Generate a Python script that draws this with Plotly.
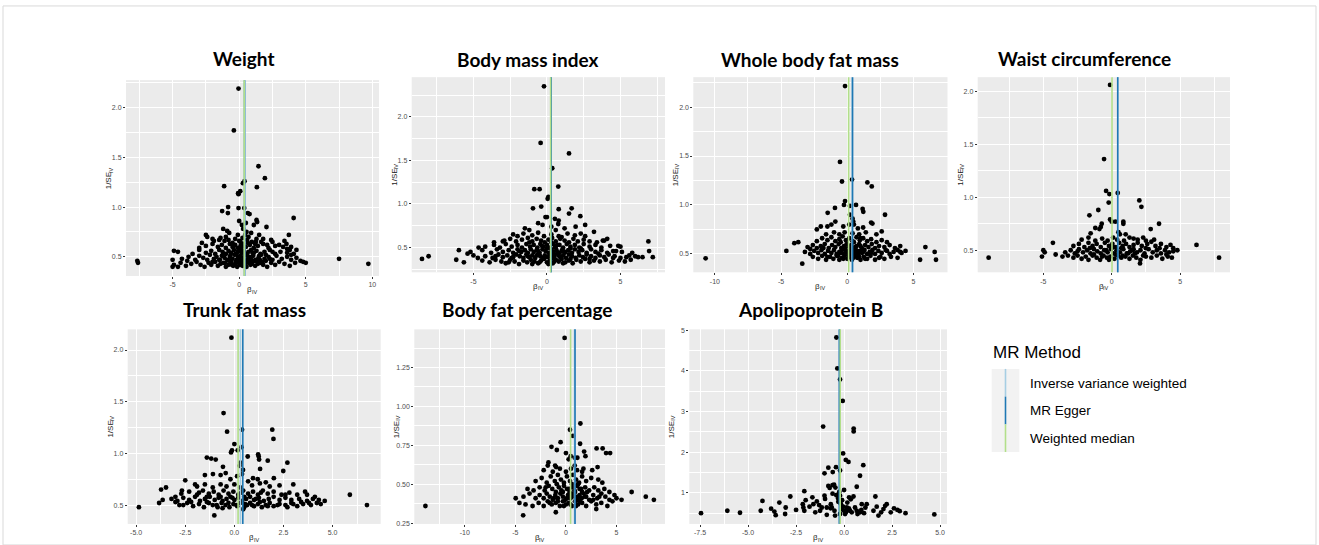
import plotly.graph_objects as go

W, H = 1319, 545

panel_titles = ["Weight", "Body mass index", "Whole body fat mass", "Waist circumference",
                "Trunk fat mass", "Body fat percentage", "Apolipoprotein B"]
methods = ["Inverse variance weighted", "MR Egger", "Weighted median"]
method_colors = ["#a6cee3", "#1f78b4", "#b2df8a"]
x_title = ("β", "IV")      # beta with subscript IV
y_title = ("1/SE", "IV")   # 1/SE with subscript IV

# ---------------- data: (beta_IV, 1/SE_IV) ----------------
weight_pts = [
    (-0.05,2.19),(-0.4,1.77),(1.45,1.41),(1.93,1.29),(0.4,1.26),(0.28,1.24),(-1.13,1.21),(1.33,1.20),(0.08,1.16),(-0.08,1.14),(-0.05,1.13),
    (-0.83,1.00),(-0.85,0.94),(-1.28,0.96),(-0.05,0.99),(0.38,0.99),(0.65,0.94),(0.78,0.93),(4.09,0.89),(0.0,0.86),(1.3,0.87),(1.35,0.85),
    (0.5,0.84),(0.2,0.82),(1.1,0.82),(2.05,0.80),(-1.2,0.78),(0.3,0.78),(0.55,0.75),(-0.9,0.76),(-0.75,0.74),(0.9,0.74),(-2.5,0.72),
    (-2.4,0.70),(3.73,0.72),(1.5,0.72),(-0.1,0.72),(0.7,0.70),(2.4,0.67),(-2.0,0.68),(-1.5,0.67),(1.8,0.68),(-1.1,0.66),(3.55,0.63),
    (0.1,0.65),(-0.5,0.64),(1.2,0.63),(2.1,0.62),(3.9,0.60),
    (-7.65,0.46),(-7.6,0.44),(7.5,0.48),(9.7,0.43),
    (-5.0,0.40),(-4.9,0.42),(-4.4,0.44),(-4.0,0.41),(-3.6,0.43),(-3.2,0.45),(-2.9,0.42),(-2.6,0.40),(-2.3,0.44),(-2.1,0.42),(-1.8,0.45),
    (-1.6,0.41),(-1.4,0.43),(-1.2,0.44),(-1.0,0.40),(-0.8,0.42),(-0.6,0.45),(-0.45,0.41),(-0.3,0.43),(-0.15,0.40),(-0.05,0.44),(0.05,0.42),
    (0.15,0.45),(0.25,0.41),(0.4,0.43),(0.55,0.40),(0.7,0.44),(0.85,0.42),(1.0,0.45),(1.2,0.41),(1.4,0.43),(1.6,0.44),(1.8,0.42),(2.1,0.40),
    (2.4,0.44),(2.7,0.42),(3.0,0.45),(3.4,0.43),(3.8,0.41),(4.2,0.44),(4.8,0.45),(5.0,0.44),
    (-5.0,0.47),(-4.3,0.48),(-3.8,0.50),(-3.3,0.47),(-3.0,0.51),(-2.7,0.49),(-2.4,0.47),(-2.2,0.52),(-1.9,0.48),(-1.7,0.50),(-1.5,0.47),
    (-1.3,0.51),(-1.1,0.49),(-0.9,0.47),(-0.7,0.50),(-0.5,0.48),(-0.35,0.52),(-0.2,0.47),(-0.1,0.50),(0.0,0.48),(0.1,0.51),(0.2,0.46),
    (0.3,0.49),(0.45,0.52),(0.6,0.47),(0.75,0.50),(0.9,0.48),(1.05,0.51),(1.25,0.47),(1.45,0.49),(1.65,0.52),(1.9,0.48),(2.2,0.50),
    (2.5,0.47),(2.8,0.51),(3.2,0.48),(3.6,0.50),(3.9,0.47),(4.3,0.49),(4.6,0.46),
    (-4.9,0.56),(-4.6,0.55),(-3.5,0.53),(-3.0,0.57),(-2.5,0.54),(-2.1,0.56),(-1.8,0.53),(-1.5,0.57),(-1.25,0.55),(-1.0,0.53),(-0.8,0.56),
    (-0.6,0.54),(-0.4,0.57),(-0.25,0.53),(-0.1,0.55),(0.05,0.57),(0.2,0.54),(0.35,0.56),(0.5,0.53),(0.7,0.55),(0.9,0.57),(1.1,0.54),
    (1.3,0.56),(1.6,0.53),(1.9,0.55),(2.3,0.57),(2.7,0.53),(3.1,0.55),(3.6,0.54),(3.8,0.57),(4.1,0.53),
    (-3.0,0.59),(-2.5,0.61),(-2.0,0.63),(-1.6,0.60),(-1.3,0.62),(-1.0,0.59),(-0.7,0.63),(-0.5,0.60),(-0.3,0.62),(-0.1,0.59),(0.1,0.61),
    (0.3,0.63),(0.5,0.60),(0.8,0.62),(1.1,0.59),(1.4,0.61),(1.8,0.63),(2.2,0.59),(2.7,0.61),(3.3,0.60),(3.6,0.58),
    (-1.9,0.66),(-1.4,0.69),(-0.8,0.67),(-0.3,0.68),(0.0,0.66),(0.25,0.69),(0.6,0.67),(0.95,0.65),(1.3,0.68),(1.65,0.65),(2.5,0.65),(3.4,0.66),
    (-1.45,0.47),(-1.05,0.44),(-0.75,0.46),(-0.55,0.42),(-0.25,0.45),(-0.05,0.47),(0.1,0.43),(0.3,0.46),(0.5,0.44),(0.65,0.47),(0.8,0.45),
    (0.95,0.43),(1.15,0.46),(1.35,0.45),(1.55,0.47),(1.75,0.45),(2.0,0.46),(2.3,0.48),(-2.0,0.45),(-1.2,0.53),(-0.65,0.52),(-0.2,0.53),
    (0.15,0.55),(0.6,0.51),(1.0,0.54),(1.5,0.51),(2.0,0.52),(2.5,0.55),(-0.4,0.61),(0.2,0.60),(0.65,0.64),(1.25,0.65),(-1.0,0.70),
    (0.45,0.72),(3.0,0.62),(3.9,0.52),(4.3,0.57),(-2.8,0.64),(-3.9,0.46),(-4.6,0.40),
]

bmi_pts = [
    (-0.2,2.35),(-0.43,1.70),(1.5,1.58),(0.36,1.41),(0.77,1.20),(-0.86,1.17),(-0.5,1.17),(0.1,1.08),(0.05,1.06),(-0.39,0.97),(-0.95,0.95),
    (0.8,0.94),(1.68,0.95),(1.5,0.89),(2.27,0.86),(0.0,0.85),(-0.1,0.85),(0.54,0.83),(0.8,0.81),(0.77,0.77),(-0.6,0.78),(2.6,0.76),
    (1.95,0.74),(-0.3,0.76),(0.3,0.74),(1.2,0.72),(-1.5,0.72),(-1.2,0.70),(0.6,0.70),(3.2,0.68),(2.3,0.66),(-2.3,0.65),(4.1,0.60),
    (3.9,0.58),(-3.0,0.57),
    (-8.5,0.37),(-8.05,0.40),(-6.17,0.36),(-5.99,0.47),(-5.4,0.43),(-5.65,0.33),(-4.65,0.50),(-4.7,0.38),
    (6.9,0.57),(6.95,0.46),(7.2,0.39),(6.5,0.39),(6.2,0.39),(5.4,0.39),(4.7,0.46),(4.85,0.52),
    (-4.4,0.35),(-3.9,0.33),(-3.5,0.36),(-3.1,0.34),(-2.8,0.32),(-2.5,0.36),(-2.2,0.34),(-1.9,0.31),(-1.6,0.35),(-1.35,0.33),(-1.1,0.36),
    (-0.85,0.34),(-0.6,0.32),(-0.4,0.35),(-0.2,0.37),(0.0,0.33),(0.2,0.35),(0.4,0.32),(0.6,0.36),(0.8,0.34),(1.0,0.37),(1.25,0.33),
    (1.5,0.35),(1.75,0.32),(2.0,0.36),(2.3,0.34),(2.6,0.37),(2.9,0.33),(3.2,0.35),(3.6,0.34),(4.0,0.36),(4.4,0.33),(4.9,0.35),(5.3,0.34),(5.7,0.36),
    (-5.0,0.41),(-4.2,0.40),(-3.7,0.38),(-3.3,0.42),(-3.0,0.39),(-2.7,0.41),(-2.4,0.38),(-2.1,0.42),(-1.85,0.40),(-1.6,0.38),(-1.4,0.42),
    (-1.2,0.39),(-1.0,0.41),(-0.8,0.38),(-0.6,0.42),(-0.45,0.40),(-0.3,0.38),(-0.15,0.41),(0.05,0.39),(0.2,0.42),(0.35,0.38),(0.5,0.40),
    (0.7,0.43),(0.9,0.39),(1.1,0.41),(1.3,0.38),(1.5,0.42),(1.7,0.40),(1.95,0.38),(2.2,0.41),(2.45,0.39),(2.7,0.42),(3.0,0.40),(3.3,0.38),
    (3.6,0.41),(3.9,0.39),(4.2,0.42),(4.6,0.40),(5.0,0.38),(5.6,0.41),(6.0,0.40),
    (-5.2,0.45),(-4.4,0.47),(-3.8,0.44),(-3.4,0.48),(-3.0,0.45),(-2.6,0.47),(-2.3,0.44),(-2.0,0.48),(-1.75,0.45),(-1.5,0.47),(-1.3,0.44),
    (-1.1,0.48),(-0.9,0.45),(-0.7,0.47),(-0.5,0.44),(-0.3,0.48),(-0.1,0.46),(0.1,0.44),(0.3,0.48),(0.45,0.45),(0.65,0.47),(0.85,0.44),
    (1.05,0.48),(1.25,0.45),(1.45,0.47),(1.7,0.44),(1.9,0.48),(2.15,0.45),(2.4,0.47),(2.7,0.44),(3.0,0.48),(3.3,0.45),(3.7,0.47),(4.1,0.44),
    (4.5,0.46),(5.1,0.45),(5.8,0.44),
    (-4.2,0.51),(-3.6,0.53),(-3.2,0.50),(-2.8,0.54),(-2.4,0.51),(-2.0,0.53),(-1.7,0.50),(-1.4,0.54),(-1.15,0.51),(-0.9,0.53),(-0.65,0.50),
    (-0.45,0.54),(-0.25,0.51),(0.0,0.53),(0.2,0.50),(0.4,0.54),(0.6,0.51),(0.85,0.53),(1.1,0.50),(1.35,0.54),(1.6,0.51),(1.9,0.53),
    (2.2,0.50),(2.5,0.54),(2.9,0.51),(3.3,0.53),(3.7,0.50),(4.3,0.52),(5.0,0.51),
    (-3.6,0.56),(-2.9,0.58),(-2.5,0.60),(-2.1,0.57),(-1.7,0.59),(-1.3,0.61),(-1.0,0.57),(-0.7,0.60),(-0.4,0.58),(-0.15,0.56),(0.1,0.59),
    (0.35,0.61),(0.6,0.57),(0.9,0.60),(1.2,0.58),(1.5,0.56),(1.8,0.60),(2.1,0.57),(2.5,0.59),(2.9,0.57),(3.4,0.56),(3.8,0.58),
    (-2.0,0.63),(-1.6,0.66),(-1.0,0.64),(-0.6,0.67),(-0.2,0.63),(0.3,0.65),(0.8,0.63),(1.4,0.66),(1.9,0.64),(2.6,0.63),
    (-1.0,0.31),(-0.5,0.33),(0.1,0.31),(0.5,0.34),(1.1,0.32),(1.6,0.37),(-1.3,0.40),(-0.7,0.41),(-0.1,0.39),(0.4,0.43),(0.8,0.41),
    (1.2,0.44),(-0.6,0.46),(0.0,0.49),(0.55,0.50),(1.0,0.46),(1.6,0.49),(2.3,0.49),(-1.9,0.46),(-0.35,0.52),(0.3,0.56),(-2.3,0.39),
    (3.5,0.43),(2.9,0.37),(-3.5,0.40),(4.5,0.38),(-2.6,0.33),(0.7,0.53),(-1.2,0.56),(1.0,0.62),
]

wbfm_pts = [
    (-0.17,2.215),(-0.55,1.44),(-0.4,1.24),(0.36,1.26),(1.52,1.23),(1.85,1.19),(-0.17,1.04),(-0.25,1.00),(0.2,0.99),(0.66,1.00),(1.16,0.96),
    (1.21,0.93),(2.85,0.90),(-0.93,0.97),(-1.48,0.92),(0.2,0.90),(0.4,0.86),(0.45,0.83),(0.5,0.80),(-0.9,0.83),(1.8,0.82),(1.9,0.81),
    (0.15,0.80),(-1.5,0.78),(-1.2,0.80),(2.6,0.73),(1.2,0.77),(0.8,0.76),(-0.3,0.78),(-2.0,0.78),(-2.3,0.75),
    (-10.7,0.455),(-3.4,0.40),(-4.6,0.53),(-3.7,0.62),(-4.0,0.61),(5.9,0.57),(6.6,0.52),(6.7,0.44),(5.5,0.44),
    (-2.6,0.47),(-2.2,0.45),(-1.9,0.48),(-1.6,0.44),(-1.3,0.47),(-1.05,0.45),(-0.8,0.48),(-0.6,0.44),(-0.4,0.46),(-0.2,0.48),(0.0,0.45),
    (0.15,0.47),(0.35,0.44),(0.55,0.48),(0.75,0.46),(1.0,0.44),(1.25,0.47),(1.5,0.45),(1.75,0.48),(2.1,0.44),(2.4,0.46),(2.8,0.45),
    (3.3,0.47),(3.8,0.46),
    (-3.2,0.52),(-2.8,0.50),(-2.5,0.53),(-2.2,0.51),(-1.95,0.54),(-1.7,0.50),(-1.45,0.53),(-1.2,0.51),(-1.0,0.54),(-0.8,0.50),(-0.6,0.52),
    (-0.4,0.54),(-0.25,0.50),(-0.1,0.53),(0.05,0.51),(0.2,0.54),(0.35,0.50),(0.5,0.52),(0.65,0.54),(0.8,0.50),(0.95,0.53),(1.1,0.51),
    (1.3,0.54),(1.5,0.50),(1.7,0.52),(1.9,0.54),(2.1,0.50),(2.35,0.53),(2.6,0.51),(2.9,0.54),(3.2,0.50),(3.5,0.52),(3.8,0.54),(4.1,0.51),(4.4,0.53),
    (-3.0,0.57),(-2.6,0.59),(-2.3,0.56),(-2.0,0.58),(-1.7,0.60),(-1.4,0.56),(-1.15,0.59),(-0.9,0.57),(-0.65,0.60),(-0.45,0.56),(-0.25,0.58),
    (-0.05,0.60),(0.15,0.57),(0.3,0.59),(0.5,0.56),(0.7,0.58),(0.9,0.60),(1.1,0.56),(1.35,0.59),(1.6,0.57),(1.85,0.60),(2.1,0.56),
    (2.4,0.58),(2.8,0.57),(3.2,0.59),(3.6,0.56),(4.0,0.58),
    (-2.3,0.63),(-1.9,0.66),(-1.5,0.64),(-1.2,0.67),(-0.9,0.63),(-0.6,0.65),(-0.35,0.68),(-0.1,0.64),(0.15,0.66),(0.4,0.63),(0.7,0.67),
    (0.95,0.64),(1.2,0.66),(1.5,0.63),(1.8,0.65),(2.2,0.62),(2.6,0.64),(3.0,0.62),
    (-1.6,0.70),(-1.0,0.72),(-0.6,0.70),(-0.2,0.72),(0.4,0.71),(0.9,0.70),(1.4,0.72),(2.2,0.70),
    (-0.7,0.48),(-0.3,0.45),(0.1,0.48),(0.45,0.46),(0.9,0.47),(1.35,0.45),(-0.5,0.51),(0.0,0.52),(0.4,0.53),(0.75,0.51),(1.2,0.52),
    (-1.5,0.47),(-0.15,0.56),(0.25,0.55),(0.6,0.57),(1.0,0.58),(1.8,0.51),(2.5,0.47),(3.0,0.53),(4.0,0.52),(-1.8,0.56),(0.5,0.62),
    (1.0,0.66),(-0.5,0.62),(-2.8,0.55),
]

waist_pts = [
    (-0.12,2.06),(-0.56,1.36),(-0.41,1.06),(-0.17,1.03),(-0.22,0.95),(0.44,1.04),(2.02,0.97),(2.17,0.91),(-1.63,0.83),(-0.98,0.88),
    (-0.12,0.79),(0.0,0.77),(0.27,0.77),(0.85,0.77),(0.85,0.75),(-0.73,0.75),(-0.8,0.72),(3.46,0.75),(2.85,0.70),(0.49,0.67),(0.6,0.65),
    (1.02,0.65),(-1.54,0.66),(-1.2,0.71),(-0.9,0.70),(1.6,0.61),(2.3,0.62),
    (-9.0,0.43),(-5.1,0.44),(-5.0,0.50),(-4.9,0.48),(-4.3,0.57),(-4.1,0.46),(-3.6,0.44),
    (6.2,0.55),(7.85,0.43),(2.07,0.376),
    (-3.2,0.45),(-2.8,0.43),(-2.5,0.45),(-2.2,0.42),(-1.9,0.44),(-1.7,0.41),(-1.4,0.45),(-1.1,0.43),(-0.85,0.41),(-0.6,0.45),(-0.35,0.43),
    (-0.1,0.44),(0.2,0.42),(0.45,0.45),(0.7,0.43),(1.0,0.44),(1.3,0.42),(1.55,0.45),(1.8,0.43),(2.1,0.41),(2.5,0.44),(2.9,0.43),(3.3,0.45),
    (3.7,0.42),(4.1,0.44),(4.4,0.43),
    (-3.4,0.48),(-3.0,0.50),(-2.7,0.47),(-2.4,0.51),(-2.1,0.48),(-1.8,0.50),(-1.55,0.47),(-1.3,0.51),(-1.05,0.49),(-0.8,0.47),(-0.55,0.50),
    (-0.3,0.48),(-0.05,0.51),(0.15,0.47),(0.35,0.50),(0.6,0.48),(0.85,0.51),(1.1,0.47),(1.35,0.49),(1.6,0.51),(1.85,0.48),(2.1,0.50),
    (2.4,0.47),(2.7,0.51),(3.0,0.48),(3.3,0.50),(3.6,0.47),(3.9,0.50),(4.2,0.48),(4.5,0.49),(4.8,0.50),
    (-2.8,0.54),(-2.4,0.56),(-2.0,0.53),(-1.7,0.57),(-1.4,0.54),(-1.1,0.56),(-0.8,0.53),(-0.5,0.57),(-0.2,0.54),(0.05,0.56),(0.3,0.53),
    (0.55,0.57),(0.8,0.54),(1.05,0.56),(1.3,0.53),(1.6,0.55),(1.9,0.57),(2.2,0.54),(2.6,0.56),(2.9,0.58),(3.2,0.54),(3.6,0.56),(4.0,0.53),(4.3,0.55),
    (-2.2,0.60),(-1.7,0.62),(-1.2,0.59),(-0.7,0.61),(-0.3,0.59),(0.1,0.62),(0.4,0.60),(0.9,0.59),(1.3,0.62),(1.9,0.60),(2.5,0.59),(3.1,0.60),
    (-0.2,0.41),(0.3,0.46),(0.8,0.45),(1.2,0.47),(-0.7,0.44),(-1.3,0.46),(1.7,0.47),(2.3,0.45),(-0.4,0.50),(0.1,0.53),(0.7,0.52),
    (1.5,0.50),(2.5,0.52),(3.5,0.52),(-1.6,0.52),(-2.5,0.49),(4.0,0.46),(4.5,0.52),
]

trunk_pts = [
    (-0.15,2.12),(-0.55,1.39),(-0.37,1.21),(0.39,1.23),(1.93,1.23),(1.99,1.14),(0.0,1.09),(-0.12,1.03),(-0.17,1.01),(0.17,1.03),(0.36,1.06),
    (1.21,0.99),(1.24,0.97),(-1.4,0.96),(-1.18,0.95),(-0.95,0.94),(0.68,0.97),(1.7,0.93),(2.7,0.91),(1.26,0.94),(0.31,0.91),(0.27,0.88),
    (1.31,0.85),(0.44,0.84),(2.49,0.83),(-0.58,0.87),(-1.09,0.80),(-0.44,0.81),(0.39,0.80),(0.14,0.78),(0.95,0.76),(1.19,0.75),(2.01,0.76),
    (-0.7,0.79),(-1.5,0.79),(-2.0,0.70),(-0.2,0.75),(0.7,0.73),(1.6,0.72),(3.0,0.70),
    (-4.86,0.48),(-3.83,0.52),(-3.73,0.65),(-3.48,0.67),(-3.65,0.55),(-3.0,0.58),(-2.5,0.74),(-2.67,0.64),(-3.0,0.53),(-2.6,0.50),
    (5.88,0.60),(6.75,0.50),(4.3,0.55),(4.1,0.58),(3.6,0.63),(3.7,0.60),
    (-1.02,0.40),(0.45,0.46),(-0.6,0.47),
    (-2.8,0.50),(-2.4,0.52),(-2.1,0.49),(-1.8,0.51),(-1.55,0.48),(-1.3,0.52),(-1.1,0.50),(-0.85,0.48),(-0.65,0.52),(-0.45,0.50),(-0.25,0.48),
    (-0.05,0.51),(0.15,0.49),(0.3,0.52),(0.5,0.48),(0.65,0.50),(0.8,0.52),(1.0,0.49),(1.2,0.51),(1.4,0.48),(1.6,0.50),(1.8,0.52),(2.0,0.49),
    (2.3,0.51),(2.6,0.50),(2.9,0.52),(3.2,0.49),(3.5,0.51),(3.9,0.50),(4.2,0.52),
    (-3.2,0.56),(-2.9,0.54),(-2.6,0.57),(-2.3,0.55),(-2.0,0.58),(-1.75,0.54),(-1.5,0.56),(-1.25,0.58),(-1.0,0.55),(-0.8,0.57),(-0.6,0.54),
    (-0.4,0.56),(-0.2,0.58),(0.0,0.55),(0.2,0.57),(0.4,0.54),(0.6,0.56),(0.8,0.58),(1.0,0.55),(1.25,0.57),(1.5,0.54),(1.75,0.56),(2.0,0.58),
    (2.3,0.55),(2.6,0.57),(2.9,0.55),(3.3,0.56),(3.7,0.54),(4.0,0.56),
    (-2.7,0.61),(-2.3,0.63),(-1.9,0.60),(-1.6,0.64),(-1.3,0.61),(-1.05,0.63),(-0.8,0.60),(-0.55,0.64),(-0.3,0.61),(-0.05,0.63),(0.2,0.60),
    (0.45,0.64),(0.7,0.61),(0.95,0.63),(1.2,0.60),(1.45,0.64),(1.7,0.61),(2.0,0.63),(2.4,0.60),(2.8,0.62),(3.2,0.60),
    (-1.9,0.68),(-1.5,0.70),(-1.1,0.67),(-0.7,0.70),(-0.4,0.68),(0.0,0.70),(0.3,0.67),(0.9,0.69),(1.3,0.71),(1.8,0.68),(2.3,0.69),
    (-0.3,0.52),(0.1,0.50),(0.55,0.51),(0.9,0.50),(1.3,0.53),(1.7,0.49),(2.2,0.50),(2.7,0.48),(-0.9,0.50),(-1.4,0.53),(-2.2,0.53),
    (3.0,0.51),(3.4,0.53),(3.8,0.52),(4.4,0.51),(-0.1,0.57),(0.5,0.58),(1.1,0.56),(-0.7,0.58),(-1.4,0.58),(0.35,0.62),(1.35,0.62),
    (2.6,0.60),(-1.8,0.62),(4.6,0.54),
]

bfp_pts = [
    (-0.13,1.44),(1.43,0.89),(0.4,0.85),(0.7,0.81),(-0.53,0.77),(-1.43,0.74),(1.4,0.76),(3.63,0.73),(3.03,0.73),(3.97,0.70),(4.37,0.70),
    (0.0,0.70),(-0.9,0.72),(1.8,0.71),(1.93,0.68),(0.47,0.68),(0.87,0.67),(1.13,0.67),(0.27,0.66),(-1.73,0.64),(-1.8,0.62),(-1.07,0.62),
    (-0.97,0.61),(0.87,0.62),(1.73,0.60),(3.13,0.61),
    (-13.9,0.36),(-4.23,0.30),(-4.97,0.41),(8.7,0.40),(7.9,0.42),(6.5,0.45),(5.5,0.40),(-1.0,0.32),(3.0,0.34),
    (-4.6,0.38),(-4.0,0.37),(-3.3,0.36),(-2.7,0.38),(-2.2,0.36),(-1.8,0.39),(-1.4,0.37),(-1.0,0.38),(-0.6,0.36),(-0.3,0.39),(0.0,0.37),
    (0.3,0.38),(0.6,0.36),(0.9,0.39),(1.2,0.37),(1.6,0.38),(2.0,0.36),(2.5,0.39),(3.0,0.37),(3.5,0.38),(4.1,0.36),(4.6,0.39),
    (-4.2,0.42),(-3.6,0.44),(-3.0,0.41),(-2.6,0.43),(-2.2,0.41),(-1.9,0.44),(-1.6,0.42),(-1.3,0.40),(-1.05,0.43),(-0.8,0.41),(-0.55,0.44),
    (-0.3,0.42),(-0.05,0.40),(0.2,0.43),(0.45,0.41),(0.7,0.44),(0.95,0.42),(1.15,0.40),(1.35,0.43),(1.55,0.41),(1.75,0.44),(2.0,0.42),
    (2.3,0.40),(2.7,0.43),(3.1,0.41),(3.5,0.44),(3.9,0.42),(4.3,0.40),(4.8,0.43),
    (-3.8,0.47),(-3.2,0.46),(-2.6,0.48),(-2.1,0.46),(-1.7,0.49),(-1.35,0.47),(-1.0,0.45),(-0.7,0.48),(-0.45,0.46),(-0.2,0.49),(0.1,0.47),
    (0.35,0.45),(0.6,0.48),(0.85,0.46),(1.1,0.49),(1.35,0.47),(1.6,0.45),(1.9,0.48),(2.3,0.46),(2.8,0.48),(3.2,0.46),(3.8,0.47),
    (-3.0,0.52),(-2.4,0.54),(-1.9,0.51),(-1.5,0.55),(-1.1,0.52),(-0.8,0.56),(-0.5,0.53),(-0.2,0.51),(0.1,0.55),(0.4,0.52),(0.7,0.56),
    (1.0,0.53),(1.3,0.51),(1.6,0.55),(2.0,0.52),(2.5,0.54),(3.2,0.53),(3.6,0.51),
    (-2.2,0.59),(-1.3,0.58),(-0.6,0.60),(0.0,0.58),(0.5,0.60),(1.1,0.59),(1.6,0.58),(2.6,0.59),
    (-0.2,0.36),(0.45,0.37),(1.0,0.36),(1.4,0.39),(-0.8,0.39),(-1.2,0.41),(0.1,0.41),(0.6,0.42),(1.25,0.42),(1.9,0.42),(-0.3,0.45),
    (0.3,0.47),(0.9,0.45),(1.5,0.47),(2.1,0.45),(-0.9,0.50),(0.6,0.50),(1.2,0.50),(-2.0,0.48),(2.7,0.40),(3.3,0.42),(-1.6,0.38),
    (5.0,0.41),(4.3,0.45),
]

apob_pts = [
    (-0.4,4.82),(-0.35,4.06),(-0.21,3.79),(-0.07,3.26),(-1.09,2.63),(0.5,2.58),(0.5,2.51),(-0.05,1.97),(0.09,1.81),(0.23,1.76),(1.0,1.68),
    (0.83,1.42),(-0.42,1.63),(-0.82,1.62),(-1.02,1.48),(-0.59,1.51),(-0.21,1.55),(0.66,1.15),(-0.82,1.17),(-0.75,1.12),(-0.52,1.20),
    (-0.45,1.13),(-2.07,1.04),(0.0,1.07),(-0.6,1.19),
    (-7.45,0.50),(-6.08,0.56),(-5.42,0.51),(-4.34,0.56),(-4.25,0.80),(-3.8,0.61),(-3.63,0.54),(-3.56,0.45),(-3.37,0.76),(-3.04,0.64),
    (-3.07,0.48),(-2.8,0.91),(1.63,0.91),(1.7,0.66),
    (-2.15,0.72),(-2.12,0.64),(-2.07,0.56),(-1.65,0.89),(-1.6,0.72),(-1.42,0.79),(-1.25,0.56),(-1.16,0.64),(-1.02,0.93),(-0.99,0.85),
    (-0.9,0.64),(-0.69,0.72),(-0.64,0.64),(-0.5,0.56),(-0.38,0.95),(-0.31,0.86),(-0.21,0.93),(-0.16,0.72),(-0.09,0.59),(0.0,0.56),
    (0.05,0.48),(0.14,0.64),(0.17,0.76),(0.26,0.89),(0.31,0.56),(0.4,0.52),(0.57,0.64),(0.49,0.91),(0.66,0.56),(0.83,0.52),(1.04,0.50),
    (1.18,0.72),(0.92,0.72),(1.11,0.64),(1.53,0.56),(1.79,0.44),(1.93,0.52),(2.05,0.60),(2.14,0.68),(2.22,0.72),(2.43,0.52),(2.78,0.58),
    (-0.21,0.48),(-0.47,0.44),(-0.9,0.46),
    (4.7,0.47),(3.2,0.50),(2.9,0.55),(2.6,0.62),
    (-0.3,0.78),(-0.1,0.82),(0.2,0.58),(0.1,0.52),(-0.05,0.66),(0.35,0.84),(-0.6,0.98),(-0.7,0.62),(-1.3,0.70),(-1.8,0.66),(-2.5,0.58),
    (0.7,0.48),(0.9,0.58),(-0.25,1.02),(-0.4,0.94),(0.25,0.62),(-1.5,0.52),(-2.0,0.82),
]

# MR estimates per panel: IVW, MR Egger, Weighted median
weight_est = [0.42, 0.40, 0.38]
bmi_est = [0.27, 0.29, 0.25]
wbfm_est = [0.36, 0.40, 0.10]
waist_est = [0.44, 0.44, 0.02]
trunk_est = [0.31, 0.43, 0.19]
bfp_est = [0.85, 0.90, 0.46]
apob_est = [-0.22, -0.25, -0.20]

# tick labels (major) and minor grid positions
weight_xt = [-5, 0, 5, 10]; weight_xl = ["-5", "0", "5", "10"]; weight_xm = [-7.5, -2.5, 2.5, 7.5]
weight_yt = [0.5, 1.0, 1.5, 2.0]; weight_yl = ["0.5", "1.0", "1.5", "2.0"]; weight_ym = [0.75, 1.25, 1.75, 2.25]
bmi_xt = [-5, 0, 5]; bmi_xl = ["-5", "0", "5"]; bmi_xm = [-7.5, -2.5, 2.5, 7.5]
bmi_yt = [0.5, 1.0, 1.5, 2.0]; bmi_yl = ["0.5", "1.0", "1.5", "2.0"]; bmi_ym = [0.25, 0.75, 1.25, 1.75, 2.25]
wbfm_xt = [-10, -5, 0, 5]; wbfm_xl = ["-10", "-5", "0", "5"]; wbfm_xm = [-7.5, -2.5, 2.5, 7.5]
wbfm_yt = [0.5, 1.0, 1.5, 2.0]; wbfm_yl = ["0.5", "1.0", "1.5", "2.0"]; wbfm_ym = [0.75, 1.25, 1.75, 2.25]
waist_xt = [-5, 0, 5]; waist_xl = ["-5", "0", "5"]; waist_xm = [-7.5, -2.5, 2.5, 7.5]
waist_yt = [0.5, 1.0, 1.5, 2.0]; waist_yl = ["0.5", "1.0", "1.5", "2.0"]; waist_ym = [0.75, 1.25, 1.75]
trunk_xt = [-5.0, -2.5, 0.0, 2.5, 5.0]; trunk_xl = ["-5.0", "-2.5", "0.0", "2.5", "5.0"]; trunk_xm = [-3.75, -1.25, 1.25, 3.75, 6.25]
trunk_yt = [0.5, 1.0, 1.5, 2.0]; trunk_yl = ["0.5", "1.0", "1.5", "2.0"]; trunk_ym = [0.75, 1.25, 1.75]
bfp_xt = [-10, -5, 0, 5]; bfp_xl = ["-10", "-5", "0", "5"]; bfp_xm = [-12.5, -7.5, -2.5, 2.5, 7.5]
bfp_yt = [0.25, 0.50, 0.75, 1.00, 1.25]; bfp_yl = ["0.25", "0.50", "0.75", "1.00", "1.25"]; bfp_ym = [0.375, 0.625, 0.875, 1.125, 1.375]
apob_xt = [-7.5, -5.0, -2.5, 0.0, 2.5, 5.0]; apob_xl = ["-7.5", "-5.0", "-2.5", "0.0", "2.5", "5.0"]; apob_xm = [-6.25, -3.75, -1.25, 1.25, 3.75]
apob_yt = [1, 2, 3, 4, 5]; apob_yl = ["1", "2", "3", "4", "5"]; apob_ym = [0.5, 1.5, 2.5, 3.5, 4.5]

panels = [
    dict(pts=weight_pts, est=weight_est, xt=weight_xt, xl=weight_xl, xm=weight_xm, yt=weight_yt, yl=weight_yl, ym=weight_ym),
    dict(pts=bmi_pts, est=bmi_est, xt=bmi_xt, xl=bmi_xl, xm=bmi_xm, yt=bmi_yt, yl=bmi_yl, ym=bmi_ym),
    dict(pts=wbfm_pts, est=wbfm_est, xt=wbfm_xt, xl=wbfm_xl, xm=wbfm_xm, yt=wbfm_yt, yl=wbfm_yl, ym=wbfm_ym),
    dict(pts=waist_pts, est=waist_est, xt=waist_xt, xl=waist_xl, xm=waist_xm, yt=waist_yt, yl=waist_yl, ym=waist_ym),
    dict(pts=trunk_pts, est=trunk_est, xt=trunk_xt, xl=trunk_xl, xm=trunk_xm, yt=trunk_yt, yl=trunk_yl, ym=trunk_ym),
    dict(pts=bfp_pts, est=bfp_est, xt=bfp_xt, xl=bfp_xl, xm=bfp_xm, yt=bfp_yt, yl=bfp_yl, ym=bfp_ym),
    dict(pts=apob_pts, est=apob_est, xt=apob_xt, xl=apob_xl, xm=apob_xm, yt=apob_yt, yl=apob_yl, ym=apob_ym),
]

# layout geometry (pixels): plot-area box and axis ranges
boxes = [(126, 379, 78, 276), (411.7, 665, 75, 272.3), (693.3, 947.5, 75, 272.3), (977.7, 1230, 75, 272.3),
         (127.7, 380.7, 330, 526.7), (414.3, 665, 330, 526.7), (689.3, 947, 330, 526.7)]
xranges = [(-8.5, 10.5), (-9.2, 8.03), (-11.63, 7.57), (-9.8, 8.65), (-5.43, 7.45), (-15.0, 9.8), (-8.06, 5.36)]
yranges = [(0.308, 2.275), (0.216, 2.455), (0.312, 2.306), (0.292, 2.133), (0.318, 2.2), (0.245, 1.495), (0.236, 5.02)]
title_pos = [(243, 56), (527, 57), (810, 57), (1084.5, 56), (244, 310), (527, 310), (810, 310)]


def px(x):
    return x / W


def py(y):
    return 1 - y / H


def text_ann(text, x, y, size, angle=0, color="#1a1a1a", family="Liberation Sans, Arial"):
    return dict(text=text, x=px(x), y=py(y), xref="paper", yref="paper", xanchor="center", yanchor="middle",
                showarrow=False, textangle=angle, font=dict(family=family, size=size, color=color))


fig = go.Figure()
layout = dict(width=W, height=H, margin=dict(l=0, r=0, t=0, b=0), paper_bgcolor="white",
              plot_bgcolor="#ebebeb", showlegend=False, shapes=[], annotations=[])

tickfont = dict(family="Liberation Sans, Arial", size=7, color="#4d4d4d")

for i, p in enumerate(panels):
    k = i + 1
    xa = "x" if k == 1 else f"x{k}"
    ya = "y" if k == 1 else f"y{k}"
    x0, x1, y0, y1 = boxes[i]
    fig.add_trace(go.Scatter(x=[q[0] for q in p["pts"]], y=[q[1] for q in p["pts"]], mode="markers",
                             marker=dict(color="black", size=4.8, line=dict(width=0)),
                             xaxis=xa, yaxis=ya, hoverinfo="skip", showlegend=False))
    common = dict(showgrid=True, gridcolor="white", gridwidth=1.1, zeroline=False, showline=False,
                  ticks="outside", ticklen=2, tickwidth=0.6, tickcolor="#333333", tickfont=tickfont,
                  tickmode="array", fixedrange=True)
    layout["xaxis" if k == 1 else f"xaxis{k}"] = dict(
        common, domain=[px(x0), px(x1)], range=list(xranges[i]), anchor=ya,
        tickvals=p["xt"], ticktext=p["xl"],
        minor=dict(tickmode="array", tickvals=p["xm"], showgrid=True, gridcolor="white", gridwidth=0.5, ticks=""))
    layout["yaxis" if k == 1 else f"yaxis{k}"] = dict(
        common, domain=[py(y1), py(y0)], range=list(yranges[i]), anchor=xa,
        tickvals=p["yt"], ticktext=p["yl"],
        minor=dict(tickmode="array", tickvals=p["ym"], showgrid=True, gridcolor="white", gridwidth=0.5, ticks=""))
    for est, col in zip(p["est"], method_colors):
        layout["shapes"].append(dict(type="line", xref=xa, yref=f"{ya} domain", x0=est, x1=est, y0=0, y1=1,
                                     line=dict(color=col, width=1.6), layer="above"))
    # axis titles: main text + smaller subscript as separate texts
    cx = (x0 + x1) / 2
    ty_x = y1 + 14
    layout["annotations"].append(text_ann(x_title[0], cx - 2.6, ty_x, 8))
    layout["annotations"].append(text_ann(x_title[1], cx + 2.5, ty_x + 1.8, 5.5))
    cy = (y0 + y1) / 2
    tx_y = x0 - 17.5
    layout["annotations"].append(text_ann(y_title[0], tx_y, cy + 2.8, 8, angle=-90))
    layout["annotations"].append(text_ann(y_title[1], tx_y + 1.8, cy - 8.5, 5.5, angle=-90))
    # panel title
    tx, ty = title_pos[i]
    layout["annotations"].append(text_ann(f"<b>{panel_titles[i]}</b>", tx, ty, 19, color="black",
                                          family="Lato, Carlito, sans-serif"))

# legend (drawn manually)
layout["annotations"].append(dict(text="MR Method", x=px(991), y=py(353), xref="paper", yref="paper",
                                  xanchor="left", yanchor="middle", showarrow=False,
                                  font=dict(family="Liberation Sans, Arial", size=17, color="black")))
layout["shapes"].append(dict(type="rect", xref="paper", yref="paper", x0=px(991.7), x1=px(1019.3), y0=py(454), y1=py(370),
                             fillcolor="#f2f2f2", line=dict(width=0), layer="below"))
key_tops = [370, 398, 426]
for j, (m, col) in enumerate(zip(methods, method_colors)):
    t = key_tops[j]
    layout["shapes"].append(dict(type="line", xref="paper", yref="paper", x0=px(1005.5), x1=px(1005.5),
                                 y0=py(t + 28), y1=py(t), line=dict(color=col, width=1.6)))
    layout["annotations"].append(dict(text=m, x=px(1028), y=py(t + 14.5), xref="paper", yref="paper",
                                      xanchor="left", yanchor="middle", showarrow=False,
                                      font=dict(family="Liberation Sans, Arial", size=13.5, color="black")))

# thin outer frame of the figure
layout["shapes"].append(dict(type="rect", xref="paper", yref="paper", x0=px(3), x1=px(1316), y0=py(548), y1=py(3),
                             line=dict(color="#d9d9d9", width=1), fillcolor="rgba(0,0,0,0)"))

fig.update_layout(**layout)
fig.write_html("out.html")
